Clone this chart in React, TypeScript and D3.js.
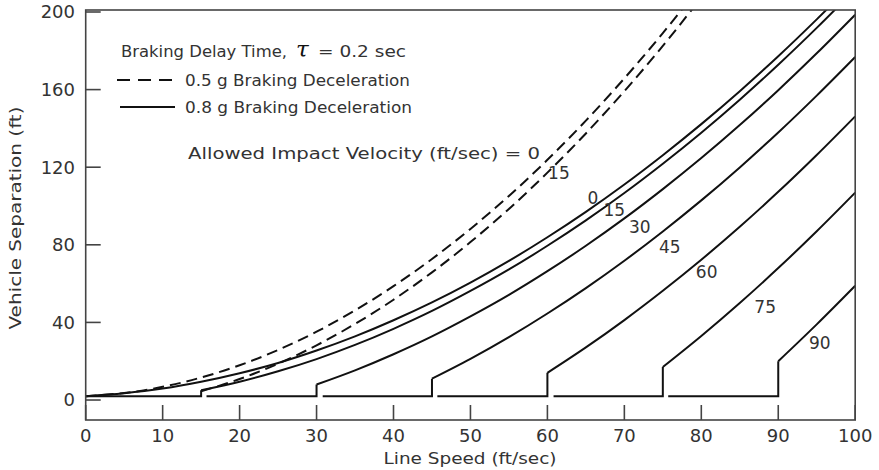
import * as d3 from 'd3';
import React from 'react';

const sep08_0 = [2, 3.5, 5.9, 9.4, 13.8, 19.1, 25.5, 32.8, 41.1, 50.3, 60.5, 71.7, 83.9, 97.0, 111.1, 126.2, 142.2, 159.2, 177.2, 196.2, 216.1];
const sep08_15 = [5.0, 9.4, 14.8, 21.1, 28.4, 36.7, 45.9, 56.2, 67.3, 79.5, 92.6, 106.7, 121.8, 137.8, 154.8, 172.8, 191.8, 211.7];
const sep08_30 = [8.0, 15.3, 23.6, 32.8, 43.1, 54.2, 66.4, 79.5, 93.6, 108.7, 124.7, 141.7, 159.7, 178.7, 198.6];
const sep08_45 = [11.0, 21.2, 32.4, 44.6, 57.7, 71.8, 86.9, 102.9, 119.9, 137.9, 156.9, 176.8];
const sep08_60 = [14.0, 27.1, 41.2, 56.3, 72.3, 89.3, 107.3, 126.3, 146.2];
const sep08_75 = [17.0, 33.0, 50.0, 68.0, 87.0, 106.9];
const sep08_90 = [20.0, 39.0, 58.9];
const sep05_0 = [2, 3.6, 6.8, 11.6, 17.9, 25.8, 35.2, 46.2, 58.7, 72.7, 88.2, 105.2, 123.8, 144.0, 165.8, 189.1, 214.0];
const sep05_15 = [4.5, 10.8, 18.7, 28.2, 39.2, 51.7, 65.8, 81.4, 98.5, 117.2, 137.4, 159.2, 182.5, 207.4];

// impact velocity, where the flat part at the bottom starts, values, dashed?
const curves = [
  {vi: 0, base: null, vals: sep08_0, dash: false},
  {vi: 15, base: 0, vals: sep08_15, dash: false},
  {vi: 30, base: 15.7, vals: sep08_30, dash: false},
  {vi: 45, base: 30.8, vals: sep08_45, dash: false},
  {vi: 60, base: 45.7, vals: sep08_60, dash: false},
  {vi: 75, base: 60.8, vals: sep08_75, dash: false},
  {vi: 90, base: 75.7, vals: sep08_90, dash: false},
  {vi: 0, base: null, vals: sep05_0, dash: true},
  {vi: 15, base: null, vals: sep05_15, dash: true},
];
const baseLevel = 2;

const xTicks = [0, 10, 20, 30, 40, 50, 60, 70, 80, 90, 100];
const yTicks = [0, 40, 80, 120, 160, 200];

// curve labels: text, speed, separation
const curveLabels: [string, number, number][] = [
  ['15', 61.5, 117], ['0', 65.9, 104], ['15', 68.7, 98], ['30', 72.0, 89],
  ['45', 75.9, 79], ['60', 80.7, 66], ['75', 88.3, 48], ['90', 95.4, 29.4],
];

const W = 879, H = 470;
const font = '"DejaVu Sans", "Liberation Sans", sans-serif';
const ink = '#111';
const grey = '#333';

export default function App() {
  const x = d3.scaleLinear().domain([0, 100]).range([85.7, 855.2]);
  const y = d3.scaleLinear().domain([-10.3, 201.03]).range([420, 10]);
  const x0 = x(0), x1 = x(100), yTop = y(201.03), yBot = y(-10.3);

  const smooth = d3.line<[number, number]>().x(d => x(d[0])).y(d => y(d[1])).curve(d3.curveCatmullRom);
  const straight = d3.line<[number, number]>().x(d => x(d[0])).y(d => y(d[1]));

  return (
    <svg width={W} height={H} style={{position: 'absolute', left: 0, top: 0, background: '#fff'}}
      fontFamily={font}>
      <defs>
        <clipPath id="plot"><rect x={x0} y={yTop} width={x1 - x0} height={yBot - yTop} /></clipPath>
      </defs>

      <g clipPath="url(#plot)" fill="none" stroke={ink} strokeWidth={2}>
        {curves.map((c, i) => {
          const pts = c.vals.map((v, k) => [c.vi + 5 * k, v] as [number, number]);
          return (
            <g key={i}>
              {c.vi > 0 && !c.dash && (
                <path d={straight([[c.base as number, baseLevel], [c.vi, baseLevel], [c.vi, c.vals[0]]]) as string} />
              )}
              <path d={smooth(pts) as string} strokeDasharray={c.dash ? '11,6' : undefined} />
            </g>
          );
        })}
      </g>

      {/* frame */}
      <g stroke="#444" strokeWidth={1.6} fill="none">
        <rect x={x0} y={yTop} width={x1 - x0} height={yBot - yTop} />
        {yTicks.map(t => <line key={t} x1={x0} x2={x0 + 15} y1={y(t)} y2={y(t)} />)}
        {xTicks.map(t => <line key={t} x1={x(t)} x2={x(t)} y1={yBot} y2={yBot - 15} />)}
      </g>

      <g fill={grey} fontSize={18}>
        {yTicks.map(t => (
          <text key={t} x={75} y={y(t)} dy="0.36em" textAnchor="end">{t}</text>
        ))}
        {xTicks.map(t => (
          <text key={t} x={x(t)} y={442} textAnchor="middle">{t}</text>
        ))}
      </g>

      <text x={470} y={464} textAnchor="middle" fontSize={16} fill={grey}
        textLength={173} lengthAdjust="spacingAndGlyphs">Line Speed (ft/sec)</text>
      <text transform={`translate(21, 218) rotate(-90)`} textAnchor="middle" fontSize={16} fill={grey}
        textLength={223} lengthAdjust="spacingAndGlyphs">Vehicle Separation (ft)</text>

      {/* legend */}
      <g fill={grey} fontSize={15.5}>
        <text x={121} y={57} textLength={166} lengthAdjust="spacingAndGlyphs">Braking Delay Time,</text>
        <text x={296} y={57} fontFamily='"DejaVu Serif", serif' fontStyle="italic" fontSize={23} fill={ink}>τ</text>
        <text x={318} y={57} textLength={88} lengthAdjust="spacingAndGlyphs">= 0.2 sec</text>
        <line x1={117} x2={173} y1={80} y2={80} stroke={ink} strokeWidth={2} strokeDasharray="13,8" />
        <text x={185} y={86} textLength={225} lengthAdjust="spacingAndGlyphs">0.5 g Braking Deceleration</text>
        <line x1={120} x2={175} y1={107} y2={107} stroke={ink} strokeWidth={2} />
        <text x={185} y={113} textLength={227} lengthAdjust="spacingAndGlyphs">0.8 g Braking Deceleration</text>
        <text x={188} y={159} textLength={352} lengthAdjust="spacingAndGlyphs">Allowed Impact Velocity (ft/sec) = 0</text>
      </g>

      <g fill={grey} fontSize={17} textAnchor="middle">
        {curveLabels.map(([t, sx, sy], i) => (
          <text key={i} x={x(sx)} y={y(sy)} dy="0.36em">{t}</text>
        ))}
      </g>
    </svg>
  );
}
